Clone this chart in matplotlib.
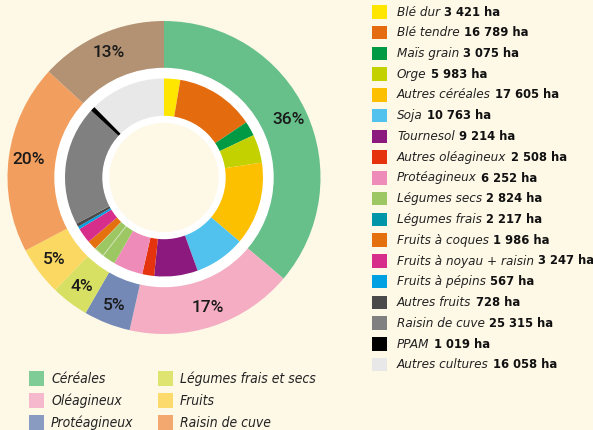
import matplotlib
matplotlib.use("Agg")
import matplotlib.pyplot as plt
from matplotlib import font_manager
from matplotlib.patches import Rectangle, Circle
import numpy as np

# inner ring: detailed crops (ha)
crops = ["Blé dur", "Blé tendre", "Maïs grain", "Orge", "Autres céréales",
         "Soja", "Tournesol", "Autres oléagineux", "Protéagineux",
         "Légumes secs", "Légumes frais", "Fruits à coques", "Fruits à noyau + raisin",
         "Fruits à pépins", "Autres fruits", "Raisin de cuve", "PPAM", "Autres cultures"]
surfaces = [3421, 16789, 3075, 5983, 17605,
            10763, 9214, 2508, 6252,
            2824, 2217, 1986, 3247,
            567, 728, 25315, 1019, 16058]
crop_colors = ["#FFE600", "#E46C0E", "#009A44", "#C3D100", "#FDC000",
               "#51C2EE", "#8C1A7E", "#E5330E", "#EE8BB8",
               "#9DC763", "#0095A8", "#E5700E", "#D62E8A",
               "#00A0E3", "#4A4A4A", "#808080", "#000000", "#E8E8E8"]
# on the ring itself "Légumes frais" is drawn in the same green as "Légumes secs"
ring_colors = list(crop_colors)
ring_colors[10] = "#9DC763"

# outer ring: groups, as index ranges into the crop list
groups = ["Céréales", "Oléagineux", "Protéagineux", "Légumes frais et secs",
          "Fruits", "Raisin de cuve", "Autres"]
group_slices = [(0, 5), (5, 8), (8, 9), (9, 11), (11, 15), (15, 16), (16, 18)]
group_colors = ["#67C08A", "#F4ADC3", "#7589B7", "#D7E063", "#FBD862", "#F29E5E", "#B29273"]
legend_groups = groups[:6]
legend_group_colors = ["#7FCC97", "#F5B8CC", "#8A9BC2", "#DEE46F", "#FCDB6C", "#F3A86F"]

group_values = [sum(surfaces[a:b]) for a, b in group_slices]
total = sum(group_values)

bg = "#FEF8E7"
W, H = 593, 430
fig = plt.figure(figsize=(W / 100, H / 100), dpi=100, facecolor=bg)

# donut
cx, cy, R = 164, 177.5, 156.5
half = 160
pax = fig.add_axes([(cx - half) / W, 1 - (cy + half) / H, 2 * half / W, 2 * half / H])
pax.set_facecolor(bg)
pax.pie(group_values, colors=group_colors, startangle=90, counterclock=False,
        radius=1, wedgeprops=dict(width=(156.5 - 109) / R, linewidth=0))
pax.add_patch(Circle((0, 0), 109 / R, color="white", zorder=2))
wedges, _ = pax.pie(surfaces, colors=ring_colors, startangle=90, counterclock=False,
                    radius=99 / R, wedgeprops=dict(width=(99 - 61) / R, linewidth=0))
for w in wedges:
    w.set_zorder(3)
wedges[10].set_edgecolor("#D8E8C0")
wedges[10].set_linewidth(0.6)
pax.add_patch(Circle((0, 0), 61 / R, color="white", zorder=4))
pax.add_patch(Circle((0, 0), 54 / R, color=bg, zorder=5))

start = 90
for v in group_values:
    frac = v / total
    mid = np.deg2rad(start - frac * 180)
    r = 0.875
    pax.text(r * np.cos(mid), r * np.sin(mid), f"{frac * 100:.0f}%",
             ha="center", va="center", fontsize=12.5, family="Roboto",
             weight="medium", color="#1a1a1a", zorder=6)
    start -= frac * 360
pax.set_xlim(-half / R, half / R)
pax.set_ylim(-half / R, half / R)
pax.axis("off")

# legends, in pixel coordinates
ax = fig.add_axes([0, 0, 1, 1], facecolor="none")
ax.set_xlim(0, W)
ax.set_ylim(H, 0)
ax.axis("off")

fp_it = font_manager.FontProperties(family="DejaVu Sans", style="italic",
                                    stretch="condensed", size=9.6)
fp_bd = font_manager.FontProperties(family="DejaVu Sans", weight="bold",
                                    stretch="condensed", size=9.3)

def fmt(v):
    return f"{v:,}".replace(",", " ") + " ha"

for i, (name, val, col) in enumerate(zip(crops, surfaces, crop_colors)):
    y = 5 + i * 20.75
    ax.add_patch(Rectangle((372, y), 14.5, 13.5, color=col, lw=0))
    t = ax.text(397, y + 7, name, fontproperties=fp_it,
                va="center", ha="left", color="#222222")
    ax.annotate(fmt(val), xy=(1, 0.5), xycoords=t, xytext=(3, 0),
                textcoords="offset points", va="center", ha="left",
                fontproperties=fp_bd, color="#111111")

fp_it2 = font_manager.FontProperties(family="DejaVu Sans", style="italic",
                                     stretch="condensed", size=10)
for i, (name, col) in enumerate(zip(legend_groups, legend_group_colors)):
    x = 29 if i < 3 else 158
    y = 371 + (i % 3) * 22
    ax.add_patch(Rectangle((x, y), 15, 15, color=col, lw=0))
    ax.text(x + 22, y + 8, name, fontproperties=fp_it2,
            va="center", ha="left", color="#222222")

fig.savefig("out.png", dpi=100, facecolor=bg)
